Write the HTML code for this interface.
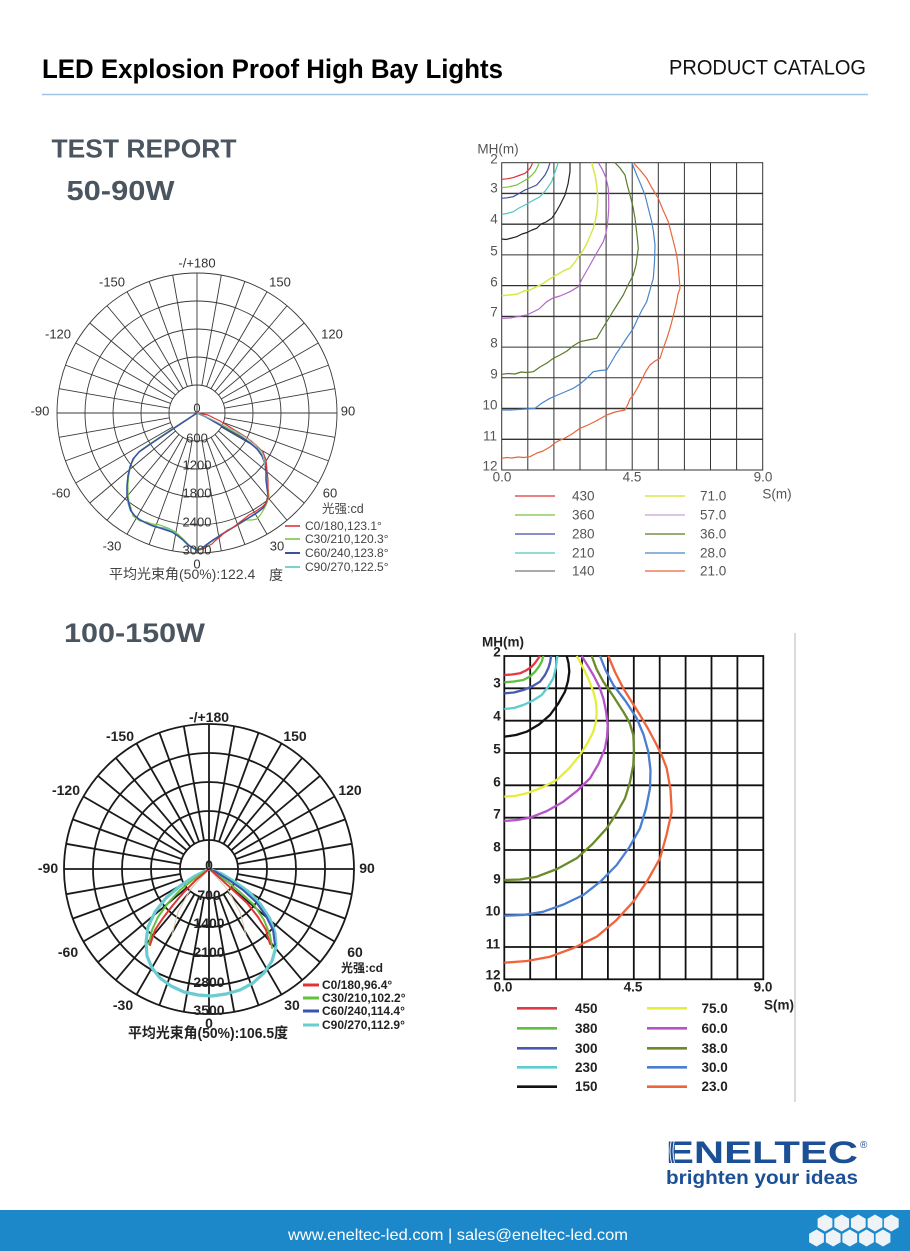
<!DOCTYPE html>
<html><head><meta charset="utf-8">
<style>
html,body{margin:0;padding:0;background:#fff;}
svg{display:block;}
</style></head>
<body>
<svg width="910" height="1251" viewBox="0 0 910 1251" xmlns="http://www.w3.org/2000/svg" font-family="'Liberation Sans','Noto Sans CJK SC',sans-serif">
<rect x="0" y="0" width="910" height="1251" fill="#fff"/>

<!-- Header -->
<text x="42" y="78" font-size="27" font-weight="bold" fill="#000" textLength="461" lengthAdjust="spacingAndGlyphs">LED Explosion Proof High Bay Lights</text>
<text x="669" y="74.5" font-size="21.5" fill="#111" textLength="197" lengthAdjust="spacingAndGlyphs">PRODUCT CATALOG</text>
<line x1="42" y1="94.5" x2="868" y2="94.5" stroke="#9dc3e6" stroke-width="1.6"/>

<text x="51.5" y="157.5" font-size="26" font-weight="bold" fill="#4a5560" textLength="185" lengthAdjust="spacingAndGlyphs">TEST REPORT</text>
<text x="66.5" y="200" font-size="28" font-weight="bold" fill="#4a5560" textLength="108" lengthAdjust="spacingAndGlyphs">50-90W</text>
<text x="64" y="642" font-size="27" font-weight="bold" fill="#4a5560" textLength="141" lengthAdjust="spacingAndGlyphs">100-150W</text>

<!-- ============ TOP POLAR ============ -->
<g transform="translate(197,413)" stroke="#3a3a3a" stroke-width="0.9" fill="none">
  <circle r="28"/><circle r="56"/><circle r="84"/><circle r="112"/><circle r="140"/>
  <line x1="-140" y1="0" x2="140" y2="0"/>
  <line x1="0" y1="-140" x2="0" y2="140"/>
  <g>
    <line x1="0" y1="28" x2="0" y2="140" transform="rotate(10)"/>
    <line x1="0" y1="28" x2="0" y2="140" transform="rotate(20)"/>
    <line x1="0" y1="28" x2="0" y2="140" transform="rotate(30)"/>
    <line x1="0" y1="28" x2="0" y2="140" transform="rotate(40)"/>
    <line x1="0" y1="28" x2="0" y2="140" transform="rotate(50)"/>
    <line x1="0" y1="28" x2="0" y2="140" transform="rotate(60)"/>
    <line x1="0" y1="28" x2="0" y2="140" transform="rotate(70)"/>
    <line x1="0" y1="28" x2="0" y2="140" transform="rotate(80)"/>
    <line x1="0" y1="28" x2="0" y2="140" transform="rotate(100)"/>
    <line x1="0" y1="28" x2="0" y2="140" transform="rotate(110)"/>
    <line x1="0" y1="28" x2="0" y2="140" transform="rotate(120)"/>
    <line x1="0" y1="28" x2="0" y2="140" transform="rotate(130)"/>
    <line x1="0" y1="28" x2="0" y2="140" transform="rotate(140)"/>
    <line x1="0" y1="28" x2="0" y2="140" transform="rotate(150)"/>
    <line x1="0" y1="28" x2="0" y2="140" transform="rotate(160)"/>
    <line x1="0" y1="28" x2="0" y2="140" transform="rotate(170)"/>
    <line x1="0" y1="28" x2="0" y2="140" transform="rotate(190)"/>
    <line x1="0" y1="28" x2="0" y2="140" transform="rotate(200)"/>
    <line x1="0" y1="28" x2="0" y2="140" transform="rotate(210)"/>
    <line x1="0" y1="28" x2="0" y2="140" transform="rotate(220)"/>
    <line x1="0" y1="28" x2="0" y2="140" transform="rotate(230)"/>
    <line x1="0" y1="28" x2="0" y2="140" transform="rotate(240)"/>
    <line x1="0" y1="28" x2="0" y2="140" transform="rotate(250)"/>
    <line x1="0" y1="28" x2="0" y2="140" transform="rotate(260)"/>
    <line x1="0" y1="28" x2="0" y2="140" transform="rotate(280)"/>
    <line x1="0" y1="28" x2="0" y2="140" transform="rotate(290)"/>
    <line x1="0" y1="28" x2="0" y2="140" transform="rotate(300)"/>
    <line x1="0" y1="28" x2="0" y2="140" transform="rotate(310)"/>
    <line x1="0" y1="28" x2="0" y2="140" transform="rotate(320)"/>
    <line x1="0" y1="28" x2="0" y2="140" transform="rotate(330)"/>
    <line x1="0" y1="28" x2="0" y2="140" transform="rotate(340)"/>
    <line x1="0" y1="28" x2="0" y2="140" transform="rotate(350)"/>
  </g>
</g>
<!-- top polar curves -->
<g fill="none" stroke-linejoin="round">
  <polyline stroke="#59c6c4" stroke-width="1.3" points="197,413 180,424 165,434 150,444 140,451 134,458 130,466 128,475 127,485 127,495 128,503 130,510 134,515 139,519 145,522 152,525 158,527 165,528 171,531 177,534 182,538 186,542 190,546 194,549 197,550 201,549 206,546 212,541 220,535 228,530 236,526 244,521 251,516 257,512 262,509 266,504 268,497 268,490 267,482 267,474 266,466 264,458 259,450 252,444 244,438 234,432 222,426 210,419 197,413"/>
  <polyline stroke="#79c64a" stroke-width="1.2" points="197,413 181,423 166,433 151,443 141,450 135,457 131,465 129,474 128,484 128,494 129,502 131,508 133,516 140,521 147,522 152,524 160,525 168,528 174,531 179,535 184,540 189,545 194,548 198,549 203,548 208,544 214,540 222,534 230,529 238,525 246,520 252,520 257,519 261,514 264,509 267,503 269,496 268,488 267,480 266,471 265,462 262,455 256,447 248,441 238,434 225,427 211,419 197,413"/>
  <polyline stroke="#3b51a3" stroke-width="1.5" points="197,413 179,425 164,435 149,445 139,452 133,459 130,467 128,476 127,486 127,496 129,504 131,511 135,516 140,520 146,523 153,526 160,528 166,530 172,532 178,536 183,540 188,545 193,548 197,550 201,549 206,545 213,540 221,535 229,530 237,525 245,520 252,516 258,512 263,508 266,503 268,496 267,488 266,480 266,472 265,464 262,456 257,449 250,443 241,437 230,431 218,424 206,417 197,413"/>
  <polyline stroke="#e0343a" stroke-width="1.2" points="197,413 208,415 220,421 233,429 246,437 256,445 263,452 266,460 267,470 268,480 268,490 268,498 265,504 262,507 256,511 249,515 244,519 240,522 235,526 231,529 228,530 224,533 220,537 216,540 212,544 208,546 203,549 199,550"/>
  <polyline stroke="#8fb8b0" stroke-width="0.9" points="197,413 215,421 235,431 252,441 262,452 265,466"/>
</g>
<!-- top polar labels -->
<g font-size="13" fill="#333" text-anchor="middle" dominant-baseline="central">
  <text x="197" y="263">-/+180</text>
  <text x="112" y="282">-150</text>
  <text x="280" y="282">150</text>
  <text x="58" y="334">-120</text>
  <text x="332" y="334">120</text>
  <text x="40" y="411">-90</text>
  <text x="348" y="411">90</text>
  <text x="61" y="493">-60</text>
  <text x="330" y="493">60</text>
  <text x="112" y="546">-30</text>
  <text x="277" y="546">30</text>
  <text x="197" y="408">0</text>
  <text x="197" y="438">600</text>
  <text x="197" y="465">1200</text>
  <text x="197" y="493">1800</text>
  <text x="197" y="522">2400</text>
  <text x="197" y="550">3000</text>
  <text x="197" y="564">0</text>
</g>
<g font-size="12" fill="#444" dominant-baseline="central">
  <text x="322" y="509" font-size="12.5">光强:cd</text>
  <text x="305" y="526">C0/180,123.1°</text>
  <text x="305" y="539">C30/210,120.3°</text>
  <text x="305" y="553">C60/240,123.8°</text>
  <text x="305" y="567">C90/270,122.5°</text>
  <text x="109" y="574" font-size="14">平均光束角(50%):122.4</text>
  <text x="269" y="575" font-size="14">度</text>
</g>
<g stroke-width="1.6">
  <line x1="285" y1="526" x2="300" y2="526" stroke="#e0343a"/>
  <line x1="285" y1="539" x2="300" y2="539" stroke="#79c64a"/>
  <line x1="285" y1="553" x2="300" y2="553" stroke="#3b51a3" stroke-width="2"/>
  <line x1="285" y1="567" x2="300" y2="567" stroke="#59c6c4"/>
</g>

<!-- ============ TOP ISOLUX ============ -->
<g stroke="#333" stroke-width="1" fill="none">
  <rect x="501.7" y="162.7" width="261" height="307.3"/>
  <line x1="527.8" y1="162.7" x2="527.8" y2="470"/>
  <line x1="553.9" y1="162.7" x2="553.9" y2="470"/>
  <line x1="580" y1="162.7" x2="580" y2="470"/>
  <line x1="606.1" y1="162.7" x2="606.1" y2="470"/>
  <line x1="632.2" y1="162.7" x2="632.2" y2="470"/>
  <line x1="658.3" y1="162.7" x2="658.3" y2="470"/>
  <line x1="684.4" y1="162.7" x2="684.4" y2="470"/>
  <line x1="710.5" y1="162.7" x2="710.5" y2="470"/>
  <line x1="736.6" y1="162.7" x2="736.6" y2="470"/>
  <line x1="501.7" y1="193.4" x2="762.7" y2="193.4" stroke-width="1.4"/>
  <line x1="501.7" y1="224.2" x2="762.7" y2="224.2" stroke-width="1.3"/>
  <line x1="501.7" y1="254.9" x2="762.7" y2="254.9"/>
  <line x1="501.7" y1="285.6" x2="762.7" y2="285.6" stroke-width="1.3"/>
  <line x1="501.7" y1="316.4" x2="762.7" y2="316.4" stroke-width="1.4"/>
  <line x1="501.7" y1="347.1" x2="762.7" y2="347.1"/>
  <line x1="501.7" y1="377.8" x2="762.7" y2="377.8"/>
  <line x1="501.7" y1="408.5" x2="762.7" y2="408.5" stroke-width="1.4"/>
  <line x1="501.7" y1="439.3" x2="762.7" y2="439.3" stroke-width="1.3"/>
</g>
<g fill="none" stroke-width="1.2" stroke-linejoin="round">
  <polyline stroke="#d9343a" points="501.7,179.3 507,178.8 513,177.7 519,175.5 525,173.3 528,170.5 530,168.3 531.5,165.5 532.7,162.7"/>
  <polyline stroke="#7ac143" points="501.7,187.7 509,186.8 516.7,185 522,182 528.3,178.3 532,175 535,171.7 537.5,167 539.3,162.7"/>
  <polyline stroke="#3b4fa0" points="501.7,198.3 507,197.8 513.3,196.7 519,193.5 525,190 531,187.5 536.7,185 541,180 545,175 548,169 550,162.7"/>
  <polyline stroke="#4fc7c0" points="501.7,214.3 507,213.5 513.3,211.7 519,208 525,205 532,201 540,196.7 546,190 551.7,181.7 555,172 558.3,162.7"/>
  <polyline stroke="#222" points="501.7,239 506,239.5 510,238.5 516.7,236.7 522,234 527,232.5 532,230 536.7,228.3 541,224 546,222 551.7,218.3 556,212 560,205 565,195 568,184 570,171.7 570,162.7"/>
  <polyline stroke="#d8e84a" stroke-width="1.5" points="501.7,295.7 509,295 516.7,294.3 524,291 530,290 536.7,286.7 543,283.5 548,280 553.3,276.7 560,273 565,270 570,268.3 575,262 579,256 583.3,250 587,243 590,236 593.3,228.3 595.5,220 597,211 597.7,201.7 597.5,193 596.5,184 595,175 593,168 591.7,162.7"/>
  <polyline stroke="#b366c8" points="501.7,318.3 510,318 518,316.5 526.7,315 533,312 539,309 546.7,301.7 553,298 560,296 570,291.7 578.3,286.7 582,279 586,272 590,265 595,256 599,249 603.3,241.7 606,233 607.5,224 608.3,215 608.8,206 608.6,197 608.3,188.3 606,178 603.5,172 601.7,168.3 598.3,162.7"/>
  <polyline stroke="#5a7a2a" points="501.7,374.3 508,373.5 515,374 521,372 527,372.5 533.3,371.7 540,367 547,363 553.3,358.3 560,355 567,351 573,346 580,341.7 588,340 596.7,338.3 601,331 606.7,321.7 612,313 617,305 623.3,295 628,285 633.3,275 636,265 638.3,248.3 637,235 635,218.3 633,207 630,195 627,184 625,175 620,168 615,162.7"/>
  <polyline stroke="#4a86c8" points="501.7,410 510,410 518,409.5 526,409 535,408.3 542,403 550,398.3 560,394 567,391 573.3,388.3 580,384 587,378 593.3,371.7 600,370.5 606.7,370 612,361 616,354 620,348.3 626,339 633.3,328.3 638,318 642,310 646.7,301.7 650,290 653.3,278.3 654.5,262 655,245 653.5,232 651.7,221.7 648,207 645,195 641,185 636.7,175 634,168 631.7,162.7"/>
  <polyline stroke="#e8663c" points="501.7,458.3 507,457.5 512,458 518,457 524,457.5 530,456.7 537,453 543,451 550,447 556.7,441.7 565,438 572,434 580,428.3 588,425 596,421 606.7,415 615,412 625,410 628,404 630,399 633.3,395 638,387 642,379 646,371 650,365 655,361 660,358.3 663,349 667,338 670,328.3 673,317 676.7,301.7 678,294 680,288.3 679,276 678,265 676.7,255 673,240 668.3,221.7 663,210 658.3,198.3 652,188 646.7,178.3 640,170 633.3,162.7"/>
</g>
<g font-size="13.5" fill="#555" dominant-baseline="central" text-anchor="middle">
  <text x="498" y="149">MH(m)</text>
  <text x="494" y="159">2</text>
  <text x="494" y="188">3</text>
  <text x="494" y="219">4</text>
  <text x="494" y="251">5</text>
  <text x="494" y="282">6</text>
  <text x="494" y="312">7</text>
  <text x="494" y="343">8</text>
  <text x="494" y="374">9</text>
  <text x="490" y="405">10</text>
  <text x="490" y="436">11</text>
  <text x="490" y="466">12</text>
  <text x="502" y="477">0.0</text>
  <text x="632" y="477">4.5</text>
  <text x="763" y="477">9.0</text>
  <text x="777" y="494">S(m)</text>
</g>
<g stroke-width="1.2">
  <line x1="515" y1="496" x2="555" y2="496" stroke="#d9343a"/>
  <line x1="515" y1="515" x2="555" y2="515" stroke="#7ac143"/>
  <line x1="515" y1="534" x2="555" y2="534" stroke="#3b4fa0"/>
  <line x1="515" y1="553" x2="555" y2="553" stroke="#4fc7c0"/>
  <line x1="515" y1="571" x2="555" y2="571" stroke="#777"/>
  <line x1="645" y1="496" x2="685" y2="496" stroke="#d8e84a" stroke-width="1.5"/>
  <line x1="645" y1="515" x2="685" y2="515" stroke="#c8a0d8"/>
  <line x1="645" y1="534" x2="685" y2="534" stroke="#5a7a2a"/>
  <line x1="645" y1="553" x2="685" y2="553" stroke="#4a86c8"/>
  <line x1="645" y1="571" x2="685" y2="571" stroke="#e8663c"/>
</g>
<g font-size="13.5" fill="#555" dominant-baseline="central">
  <text x="572" y="496">430</text>
  <text x="572" y="515">360</text>
  <text x="572" y="534">280</text>
  <text x="572" y="553">210</text>
  <text x="572" y="571">140</text>
  <text x="700" y="496">71.0</text>
  <text x="700" y="515">57.0</text>
  <text x="700" y="534">36.0</text>
  <text x="700" y="553">28.0</text>
  <text x="700" y="571">21.0</text>
</g>

<!-- ============ BOTTOM POLAR ============ -->
<g transform="translate(209,869)" stroke="#1a1a1a" stroke-width="1.8" fill="none">
  <circle r="29"/><circle r="58"/><circle r="87"/><circle r="116"/><circle r="145"/>
  <line x1="-145" y1="0" x2="145" y2="0"/>
  <line x1="0" y1="-145" x2="0" y2="145"/>
  <g>
    <line x1="0" y1="29" x2="0" y2="145" transform="rotate(10)"/>
    <line x1="0" y1="29" x2="0" y2="145" transform="rotate(20)"/>
    <line x1="0" y1="29" x2="0" y2="145" transform="rotate(30)"/>
    <line x1="0" y1="29" x2="0" y2="145" transform="rotate(40)"/>
    <line x1="0" y1="29" x2="0" y2="145" transform="rotate(50)"/>
    <line x1="0" y1="29" x2="0" y2="145" transform="rotate(60)"/>
    <line x1="0" y1="29" x2="0" y2="145" transform="rotate(70)"/>
    <line x1="0" y1="29" x2="0" y2="145" transform="rotate(80)"/>
    <line x1="0" y1="29" x2="0" y2="145" transform="rotate(100)"/>
    <line x1="0" y1="29" x2="0" y2="145" transform="rotate(110)"/>
    <line x1="0" y1="29" x2="0" y2="145" transform="rotate(120)"/>
    <line x1="0" y1="29" x2="0" y2="145" transform="rotate(130)"/>
    <line x1="0" y1="29" x2="0" y2="145" transform="rotate(140)"/>
    <line x1="0" y1="29" x2="0" y2="145" transform="rotate(150)"/>
    <line x1="0" y1="29" x2="0" y2="145" transform="rotate(160)"/>
    <line x1="0" y1="29" x2="0" y2="145" transform="rotate(170)"/>
    <line x1="0" y1="29" x2="0" y2="145" transform="rotate(190)"/>
    <line x1="0" y1="29" x2="0" y2="145" transform="rotate(200)"/>
    <line x1="0" y1="29" x2="0" y2="145" transform="rotate(210)"/>
    <line x1="0" y1="29" x2="0" y2="145" transform="rotate(220)"/>
    <line x1="0" y1="29" x2="0" y2="145" transform="rotate(230)"/>
    <line x1="0" y1="29" x2="0" y2="145" transform="rotate(240)"/>
    <line x1="0" y1="29" x2="0" y2="145" transform="rotate(250)"/>
    <line x1="0" y1="29" x2="0" y2="145" transform="rotate(260)"/>
    <line x1="0" y1="29" x2="0" y2="145" transform="rotate(280)"/>
    <line x1="0" y1="29" x2="0" y2="145" transform="rotate(290)"/>
    <line x1="0" y1="29" x2="0" y2="145" transform="rotate(300)"/>
    <line x1="0" y1="29" x2="0" y2="145" transform="rotate(310)"/>
    <line x1="0" y1="29" x2="0" y2="145" transform="rotate(320)"/>
    <line x1="0" y1="29" x2="0" y2="145" transform="rotate(330)"/>
    <line x1="0" y1="29" x2="0" y2="145" transform="rotate(340)"/>
    <line x1="0" y1="29" x2="0" y2="145" transform="rotate(350)"/>
  </g>
</g>
<g fill="none" stroke-linejoin="round" stroke-linecap="round">
  <polyline stroke="#d8c8a8" stroke-width="1" points="209,869 190,890 178,912 172,935"/>
  <polyline stroke="#d8c8a8" stroke-width="1" points="209,869 228,890 240,912 246,935"/>
  <polyline stroke="#6accd0" stroke-width="3.2" points="209,869 195,876 180,886 166,898 155,912 148,927 146,942 147,956 152,968 160,978 171,986 184,992 198,995 212,996 226,994 240,990 253,983 264,973 272,961 276,947 275,933 270,919 261,905 249,892 235,882 222,874 209,869"/>
  <polyline stroke="#66c040" stroke-width="2" points="209,869 194,879 180,890 168,903 158,917 152,930 149,944"/>
  <polyline stroke="#66c040" stroke-width="2" points="272,948 270,935 264,920 254,905 241,893 228,882 216,874 209,869"/>
  <polyline stroke="#3a55b0" stroke-width="2" points="275,945 273,930 266,916 256,902 243,890 229,880 216,872 209,869"/>
  <polyline stroke="#e03535" stroke-width="2" points="209,869 196,880 184,892 173,905 163,918 155,930 150,945"/>
  <polyline stroke="#e03535" stroke-width="2" points="270,944 266,930 258,917 247,903 234,891 222,880 212,871"/>
</g>
<g font-size="14" font-weight="bold" fill="#222" text-anchor="middle" dominant-baseline="central">
  <text x="209" y="717">-/+180</text>
  <text x="120" y="736">-150</text>
  <text x="295" y="736">150</text>
  <text x="66" y="790">-120</text>
  <text x="350" y="790">120</text>
  <text x="48" y="868">-90</text>
  <text x="367" y="868">90</text>
  <text x="68" y="952">-60</text>
  <text x="355" y="952">60</text>
  <text x="123" y="1005">-30</text>
  <text x="292" y="1005">30</text>
  <text x="209" y="865">0</text>
  <text x="209" y="895">700</text>
  <text x="209" y="923">1400</text>
  <text x="209" y="952">2100</text>
  <text x="209" y="982">2800</text>
  <text x="209" y="1010">3500</text>
  <text x="209" y="1023">0</text>
</g>
<g font-size="12" font-weight="bold" fill="#222" dominant-baseline="central">
  <text x="341" y="968">光强:cd</text>
  <text x="322" y="985">C0/180,96.4°</text>
  <text x="322" y="998">C30/210,102.2°</text>
  <text x="322" y="1011">C60/240,114.4°</text>
  <text x="322" y="1025">C90/270,112.9°</text>
  <text x="128" y="1034" font-size="14.5" textLength="160" lengthAdjust="spacingAndGlyphs">平均光束角(50%):106.5度</text>
</g>
<g stroke-width="3">
  <line x1="303" y1="985" x2="319" y2="985" stroke="#e03535"/>
  <line x1="303" y1="998" x2="319" y2="998" stroke="#66c040"/>
  <line x1="303" y1="1011" x2="319" y2="1011" stroke="#3a55b0"/>
  <line x1="303" y1="1025" x2="319" y2="1025" stroke="#6accd0"/>
</g>

<!-- ============ BOTTOM ISOLUX ============ -->
<g stroke="#111" stroke-width="1.8" fill="none">
  <rect x="504.3" y="656" width="259" height="323.3"/>
  <line x1="530.2" y1="656" x2="530.2" y2="979.3"/>
  <line x1="556.1" y1="656" x2="556.1" y2="979.3"/>
  <line x1="582" y1="656" x2="582" y2="979.3"/>
  <line x1="607.9" y1="656" x2="607.9" y2="979.3"/>
  <line x1="633.8" y1="656" x2="633.8" y2="979.3"/>
  <line x1="659.7" y1="656" x2="659.7" y2="979.3"/>
  <line x1="685.6" y1="656" x2="685.6" y2="979.3"/>
  <line x1="711.5" y1="656" x2="711.5" y2="979.3"/>
  <line x1="737.4" y1="656" x2="737.4" y2="979.3"/>
  <line x1="504.3" y1="688.3" x2="763.3" y2="688.3"/>
  <line x1="504.3" y1="720.7" x2="763.3" y2="720.7"/>
  <line x1="504.3" y1="753" x2="763.3" y2="753"/>
  <line x1="504.3" y1="785.3" x2="763.3" y2="785.3"/>
  <line x1="504.3" y1="817.7" x2="763.3" y2="817.7"/>
  <line x1="504.3" y1="850" x2="763.3" y2="850"/>
  <line x1="504.3" y1="882.3" x2="763.3" y2="882.3"/>
  <line x1="504.3" y1="914.7" x2="763.3" y2="914.7"/>
  <line x1="504.3" y1="947" x2="763.3" y2="947"/>
</g>
<g fill="none" stroke-width="2.3" stroke-linejoin="round">
  <polyline stroke="#e03a44" points="504.3,675 512,674.5 520,673.3 526,670.5 531.7,666.7 535,663 537.5,659.5 540,656"/>
  <polyline stroke="#5fbf3f" points="504.3,682.3 514,681.5 523.3,680 530,676.5 535,671.7 539,666.5 541.7,661.7 543.3,656"/>
  <polyline stroke="#4a5ab0" points="504.3,693.3 514,692.5 523.3,690 532,686.5 540,681.7 545,675 548.3,668.3 550.2,662 551,656"/>
  <polyline stroke="#5ccdd0" points="504.3,709 514,708 523.3,705 533,700.5 541.7,695 548,687 553.3,678.3 556,667 557.3,656"/>
  <polyline stroke="#111" points="504.3,736.7 516,735 526.7,731.7 539,724.5 550,715 558,704 565,691.7 568,681 569.3,671.7 568.5,663 566.7,656"/>
  <polyline stroke="#e4ee3c" points="504.3,796.7 516,795.8 526.7,793.3 542,787.5 556.7,780 569,768.5 580,755 587.5,743 593.3,731.7 596,721 596.7,711.7 595.7,701 593.3,691.7 588.5,679 583.3,668.3 579.5,661 576.7,656"/>
  <polyline stroke="#b454c8" points="504.3,821 517,820 530,817.7 547,811 563.3,801.7 577.5,790.5 590,778.3 598.5,764 605,748.3 607,737 607.7,725 606,711 603.3,698.3 599,686 593.3,675 587,664.5 581.7,656"/>
  <polyline stroke="#6b8a2a" points="504.3,880 520,879.5 536.7,876.7 557,869 576.7,858.3 592.5,844 606.7,828.3 616.5,813.5 625,798.3 630,782 633.3,765 634,750 633.3,735 629.5,722.5 623.3,711.7 613.5,696.5 603.3,681.7 596.5,669 591.7,656"/>
  <polyline stroke="#4a7ed0" points="504.3,915.7 523,915 543.3,911.7 563.5,904.5 583.3,895 600.5,881.5 616.7,865 629.5,847 640,828.3 646,808.5 650,788.3 650.5,770 648.3,751.7 643.5,734.5 636.7,718.3 625.5,701 613.3,685 605.5,670 600,656"/>
  <polyline stroke="#f0643c" points="504.3,962.7 527,961 550,956.7 573.5,948 596.7,936.7 616,920.5 633.3,901.7 647.5,880.5 660,858.3 666.5,835 671.7,811.7 670.5,789.5 666.7,768.3 662,756 656.7,745 648.5,729.5 640,715 631.5,701.5 623.3,688.3 615,672 608.3,656"/>
</g>
<g font-size="13.5" font-weight="bold" fill="#222" dominant-baseline="central" text-anchor="middle">
  <text x="503" y="642">MH(m)</text>
  <text x="497" y="652">2</text>
  <text x="497" y="683">3</text>
  <text x="497" y="716">4</text>
  <text x="497" y="749">5</text>
  <text x="497" y="782">6</text>
  <text x="497" y="814">7</text>
  <text x="497" y="847">8</text>
  <text x="497" y="879">9</text>
  <text x="493" y="911">10</text>
  <text x="493" y="944">11</text>
  <text x="493" y="975">12</text>
  <text x="503" y="987">0.0</text>
  <text x="633" y="987">4.5</text>
  <text x="763" y="987">9.0</text>
  <text x="779" y="1005">S(m)</text>
</g>
<g stroke-width="2.6">
  <line x1="517" y1="1008.3" x2="557" y2="1008.3" stroke="#e03a44"/>
  <line x1="517" y1="1028.3" x2="557" y2="1028.3" stroke="#5fbf3f"/>
  <line x1="517" y1="1048.3" x2="557" y2="1048.3" stroke="#4a5ab0"/>
  <line x1="517" y1="1067.3" x2="557" y2="1067.3" stroke="#5ccdd0"/>
  <line x1="517" y1="1086.7" x2="557" y2="1086.7" stroke="#111"/>
  <line x1="647" y1="1008.3" x2="687" y2="1008.3" stroke="#e4ee3c"/>
  <line x1="647" y1="1028.3" x2="687" y2="1028.3" stroke="#b454c8"/>
  <line x1="647" y1="1048.3" x2="687" y2="1048.3" stroke="#6b8a2a"/>
  <line x1="647" y1="1067.3" x2="687" y2="1067.3" stroke="#4a7ed0"/>
  <line x1="647" y1="1086.7" x2="687" y2="1086.7" stroke="#f0643c"/>
</g>
<g font-size="13.5" font-weight="bold" fill="#222" dominant-baseline="central">
  <text x="575" y="1008.3">450</text>
  <text x="575" y="1028.3">380</text>
  <text x="575" y="1048.3">300</text>
  <text x="575" y="1067.3">230</text>
  <text x="575" y="1086.7">150</text>
  <text x="701.5" y="1008.3">75.0</text>
  <text x="701.5" y="1028.3">60.0</text>
  <text x="701.5" y="1048.3">38.0</text>
  <text x="701.5" y="1067.3">30.0</text>
  <text x="701.5" y="1086.7">23.0</text>
</g>
<line x1="795" y1="633" x2="795" y2="1102" stroke="#cfcfcf" stroke-width="1.5"/>

<!-- Logo -->
<text x="666" y="1163" font-size="31.5" font-weight="bold" fill="#1b4f96" textLength="192" lengthAdjust="spacingAndGlyphs">ENELTEC</text>
<g stroke="#fff" stroke-width="0.9" fill="none">
  <path d="M668.5 1140 Q665.5 1151.5 668.5 1163"/>
  <path d="M671.5 1140 Q668.5 1151.5 671.5 1163"/>
  <path d="M674.5 1140 Q671.5 1151.5 674.5 1163"/>
</g>
<text x="860" y="1148" font-size="10" fill="#1b4f96">®</text>
<text x="666" y="1184" font-size="19.5" font-weight="bold" fill="#1b4f96" textLength="192" lengthAdjust="spacingAndGlyphs">brighten your ideas</text>

<!-- Footer -->
<rect x="0" y="1210" width="910" height="41" fill="#1c87c9"/>
<text x="288" y="1240" font-size="16" fill="#fff" textLength="340" lengthAdjust="spacingAndGlyphs">www.eneltec-led.com | sales@eneltec-led.com</text>
<g fill="#eef3f8">
  <polygon transform="translate(825,1223)" points="0,-8.5 7.4,-4.25 7.4,4.25 0,8.5 -7.4,4.25 -7.4,-4.25"/>
  <polygon transform="translate(841.7,1223)" points="0,-8.5 7.4,-4.25 7.4,4.25 0,8.5 -7.4,4.25 -7.4,-4.25"/>
  <polygon transform="translate(858.3,1223)" points="0,-8.5 7.4,-4.25 7.4,4.25 0,8.5 -7.4,4.25 -7.4,-4.25"/>
  <polygon transform="translate(875,1223)" points="0,-8.5 7.4,-4.25 7.4,4.25 0,8.5 -7.4,4.25 -7.4,-4.25"/>
  <polygon transform="translate(891.3,1223)" points="0,-8.5 7.4,-4.25 7.4,4.25 0,8.5 -7.4,4.25 -7.4,-4.25"/>
  <polygon transform="translate(816.5,1238)" points="0,-8.5 7.4,-4.25 7.4,4.25 0,8.5 -7.4,4.25 -7.4,-4.25"/>
  <polygon transform="translate(833.2,1238)" points="0,-8.5 7.4,-4.25 7.4,4.25 0,8.5 -7.4,4.25 -7.4,-4.25"/>
  <polygon transform="translate(849.8,1238)" points="0,-8.5 7.4,-4.25 7.4,4.25 0,8.5 -7.4,4.25 -7.4,-4.25"/>
  <polygon transform="translate(866.5,1238)" points="0,-8.5 7.4,-4.25 7.4,4.25 0,8.5 -7.4,4.25 -7.4,-4.25"/>
  <polygon transform="translate(883,1238)" points="0,-8.5 7.4,-4.25 7.4,4.25 0,8.5 -7.4,4.25 -7.4,-4.25"/>
</g>
</svg>
</body></html>
